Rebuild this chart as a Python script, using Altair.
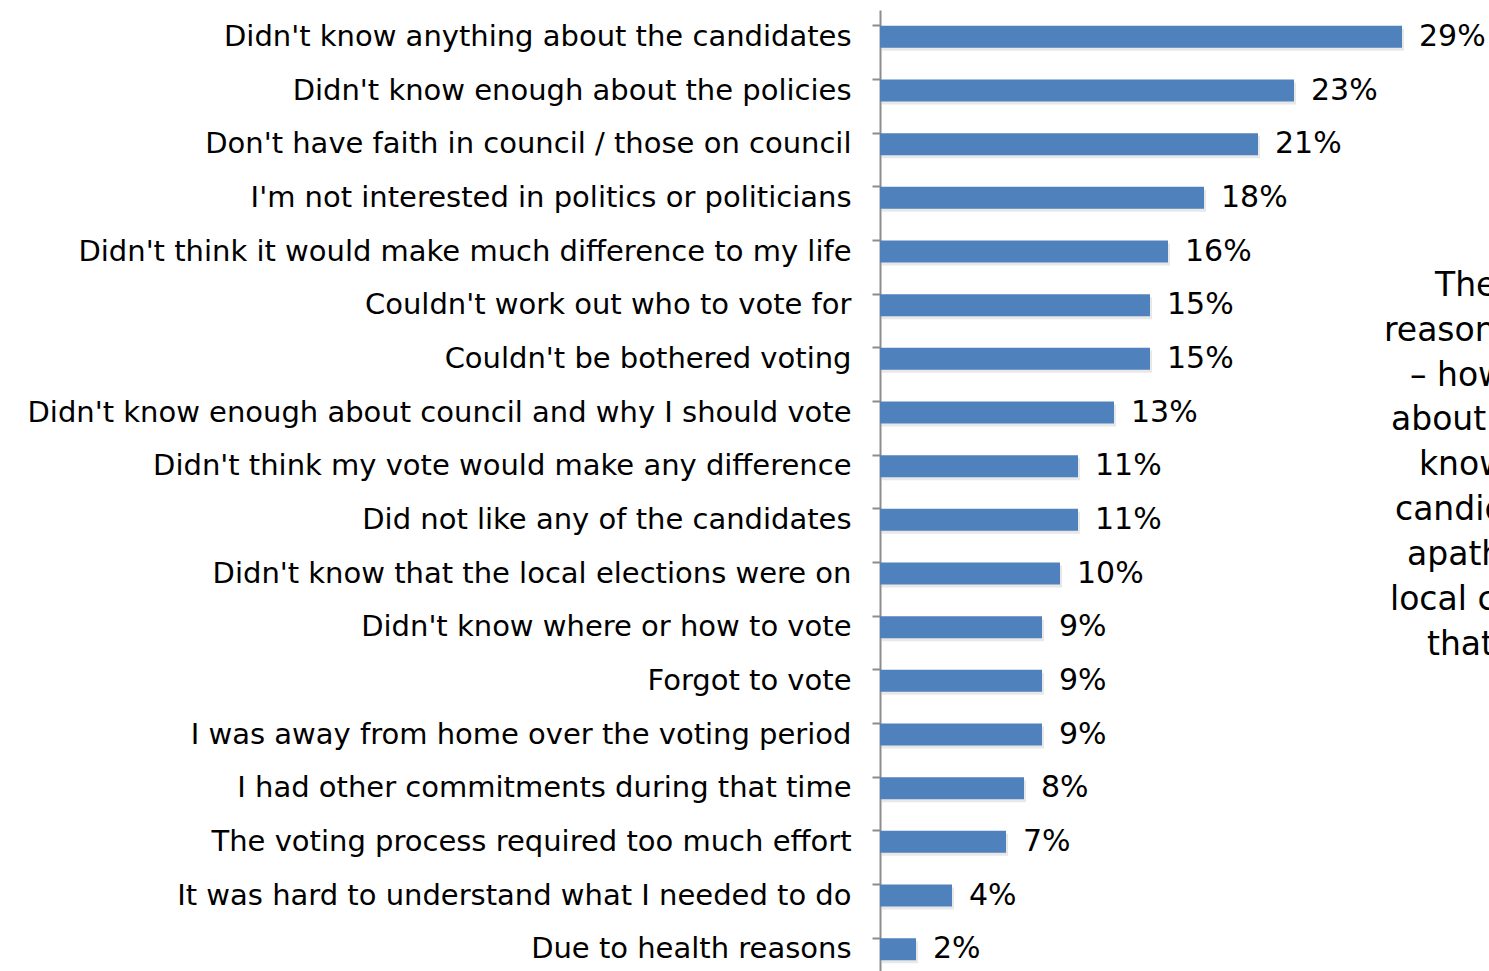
import altair as alt
import pandas as pd

categories = [
    "Didn't know anything about the candidates",
    "Didn't know enough about the policies",
    "Don't have faith in council / those on council",
    "I'm not interested in politics or politicians",
    "Didn't think it would make much difference to my life",
    "Couldn't work out who to vote for",
    "Couldn't be bothered voting",
    "Didn't know enough about council and why I should vote",
    "Didn't think my vote would make any difference",
    "Did not like any of the candidates",
    "Didn't know that the local elections were on",
    "Didn't know where or how to vote",
    "Forgot to vote",
    "I was away from home over the voting period",
    "I had other commitments during that time",
    "The voting process required too much effort",
    "It was hard to understand what I needed to do",
    "Due to health reasons",
]
values = [29, 23, 21, 18, 16, 15, 15, 13, 11, 11, 10, 9, 9, 9, 8, 7, 4, 2]

# side note (cut off at the right edge in the original)
note_lines = ["The", "reason", "\u2013 how", "about", "know", "candid", "apath", "local c", "that"]
note_x = [555, 504, 530, 511, 539, 515, 527, 510, 547]
note_y = [276, 321, 366, 410, 455, 500, 545, 590, 635]

df = pd.DataFrame({"reason": categories, "pct": values})
df["label"] = [f"{v}%" for v in values]
notes = pd.DataFrame({"line": note_lines, "nx": note_x, "ny": note_y})

FONT = "DejaVu Sans"
BLUE = "#4F81BD"

y_enc = alt.Y(
    "reason:N",
    sort=categories,
    scale=alt.Scale(range=[0, 966], paddingInner=0.59, paddingOuter=0.295),
    axis=alt.Axis(
        title=None,
        bandPosition=0,
        tickSize=8,
        tickWidth=2,
        tickColor="#8c8c8c",
        domainColor="#8c8c8c",
        domainWidth=2,
        labelPadding=21,
        labelFont=FONT,
        labelFontSize=29,
        labelColor="#000000",
        labelLimit=1000,
    ),
)
x_enc = alt.X("pct:Q", scale=alt.Scale(domain=[0, 609 / 18], nice=False, zero=True), axis=None)

base = alt.Chart(df)
shadow = base.mark_bar(color="#7f7f7f", opacity=0.18, xOffset=2, yOffset=3).encode(x=x_enc, y=y_enc)
bars = base.mark_bar(color=BLUE).encode(x=x_enc, y=y_enc)
labels = base.mark_text(
    align="left", baseline="middle", dx=17, font=FONT, fontSize=30, color="#000000"
).encode(x=x_enc, y=y_enc, text="label:N")

note = alt.Chart(notes).mark_text(
    align="left", baseline="middle", font=FONT, fontSize=33, color="#000000"
).encode(
    x=alt.X("nx:Q", scale=None),
    y=alt.Y("ny:Q", scale=None),
    text="line:N",
)

chart = (
    alt.layer(shadow, bars, labels, note)
    .properties(
        width=609,
        height=961,
        background="white",
        autosize=alt.AutoSizeParams(type="none"),
        padding={"left": 880, "top": 10, "right": 0, "bottom": 0},
    )
    .configure_view(stroke=None)
)

chart.save("out.html", embed_options={"renderer": "svg", "actions": False})
